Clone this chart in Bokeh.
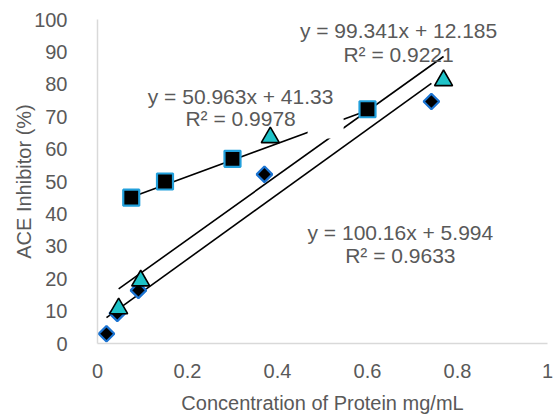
from bokeh.plotting import figure
from bokeh.models import FixedTicker, BoxAnnotation
from bokeh.embed import file_html
from bokeh.resources import INLINE
from bokeh.core.properties import value

# Series
sq_x = [0.075, 0.15, 0.30, 0.60]
sq_y = [45.0, 50.0, 57.0, 72.3]

tri_x = [0.047, 0.096, 0.384, 0.769]
tri_y = [10.8, 19.4, 63.6, 81.2]

dia_x = [0.020, 0.044, 0.091, 0.371, 0.742]
dia_y = [3.0, 9.3, 16.4, 52.2, 74.7]

# Trendline equations shown on the chart
sq_fit = (50.963, 41.33, "y = 50.963x + 41.33", "R² = 0.9978")
tri_fit = (99.341, 12.185, "y = 99.341x + 12.185", "R² = 0.9221")
dia_fit = (100.16, 5.994, "y = 100.16x + 5.994", "R² = 0.9633")

x_ticks = [0, 0.2, 0.4, 0.6, 0.8, 1.0]
x_tick_labels = ["0", "0.2", "0.4", "0.6", "0.8", "1"]
y_ticks = list(range(0, 101, 10))

FONT = "Liberation Sans"
GRAY = "#595959"

p = figure(width=555, height=416, x_range=(0, 1), y_range=(0, 100),
           output_backend="svg", toolbar_location=None,
           min_border_left=97, min_border_right=8, min_border_top=19, min_border_bottom=73)
p.outline_line_color = None
p.xgrid.visible = False
p.ygrid.visible = False
p.background_fill_color = "white"

for ax in (p.xaxis[0], p.yaxis[0]):
    ax.axis_line_color = "#d9d9d9"
    ax.axis_line_width = 1.5
    ax.major_tick_line_color = None
    ax.minor_tick_line_color = None
    ax.major_label_text_font = FONT
    ax.major_label_text_color = GRAY
    ax.major_label_text_font_size = "20px"
    ax.axis_label_text_font = FONT
    ax.axis_label_text_color = GRAY
    ax.axis_label_text_font_size = "20px"
    ax.axis_label_text_font_style = "normal"

p.xaxis.ticker = FixedTicker(ticks=x_ticks)
p.xaxis.major_label_overrides = {t: l for t, l in zip(x_ticks, x_tick_labels)}
p.xaxis.major_label_standoff = 14
p.xaxis.axis_label = "Concentration of Protein mg/mL"
p.xaxis.axis_label_standoff = 11

p.yaxis.ticker = FixedTicker(ticks=y_ticks)
p.yaxis.major_label_standoff = 24
p.yaxis.axis_label = "ACE Inhibitor (%)"
p.yaxis.axis_label_standoff = -4

def trend(xs, fit):
    a, b = fit[0], fit[1]
    x0, x1 = min(xs), max(xs)
    return [x0, x1], [a * x0 + b, a * x1 + b]

for xs, fit in ((sq_x, sq_fit), (tri_x, tri_fit), (dia_x, dia_fit)):
    lx, ly = trend(xs, fit)
    p.line(lx, ly, line_color="black", line_width=1.6)

# white gap where the trendlines are interrupted in the reference
p.add_layout(BoxAnnotation(left=0.467, right=0.547, bottom=63.3, top=69.5,
                           fill_color="white", fill_alpha=1, line_color=None, level="glyph"))

p.scatter(dia_x, dia_y, marker="square", angle=0.785398, size=11,
          fill_color="black", line_color="#1a73d1", line_width=2.2)
p.scatter(tri_x, tri_y, marker="triangle", size=18,
          fill_color="#1fc3c8", line_color="black", line_width=1.6)
p.scatter(sq_x, sq_y, marker="square", size=16,
          fill_color="black", line_color="#22a0dc", line_width=2.2)

labels = [
    (0.669, 96.6, tri_fit[2]), (0.669, 89.2, tri_fit[3]),
    (0.318, 76.2, sq_fit[2]), (0.318, 69.4, sq_fit[3]),
    (0.673, 34.3, dia_fit[2]), (0.673, 27.2, dia_fit[3]),
]
p.text([l[0] for l in labels], [l[1] for l in labels], text=[l[2] for l in labels],
       text_font=value(FONT), text_font_size="21px", text_color=GRAY,
       text_align="center", text_baseline="middle")

open("out.html", "w").write(file_html(p, INLINE))
